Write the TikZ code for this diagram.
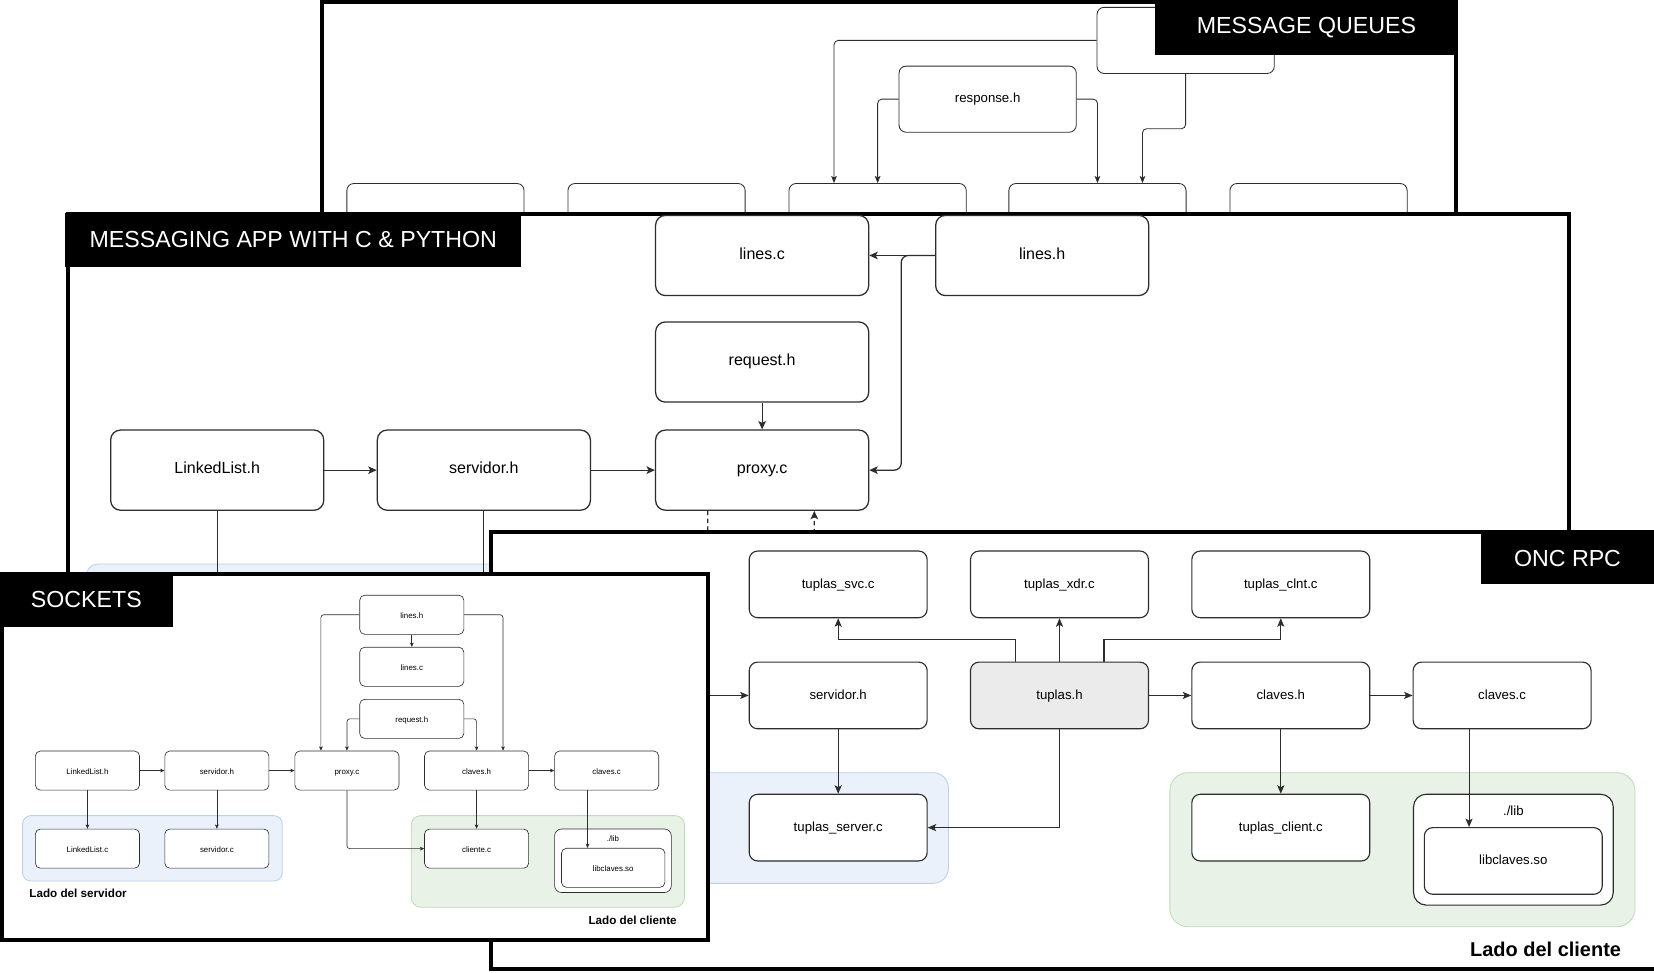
\documentclass[tikz,border=0pt]{standalone}
\usepackage{fontspec}
\setmainfont{Liberation Sans}
\usetikzlibrary{arrows.meta}

\definecolor{srvblue}{RGB}{234,241,251}
\definecolor{srvblueline}{RGB}{190,207,232}
\definecolor{cligreen}{RGB}{232,242,230}
\definecolor{cligreenline}{RGB}{191,219,183}
\definecolor{hdrgray}{RGB}{235,235,235}
\definecolor{edge}{RGB}{45,45,45}

\newcommand\mqtext{\fontsize{9.4pt}{11pt}\selectfont}
\newcommand\matext{\fontsize{11.4pt}{13pt}\selectfont}
\newcommand\onctext{\fontsize{9.4pt}{11pt}\selectfont}
\newcommand\sktext{\fontsize{5.6pt}{7pt}\selectfont}
\newcommand\titletext{\fontsize{16.5pt}{19pt}\selectfont}

\tikzset{
  panel/.style={draw=black, fill=white, line width=2.9pt},
  paneltitle/.style={fill=black, text=white, inner sep=0pt, font=\titletext},
  filetext/.style={text height=0.72em, text depth=0.2em},
  mqfile/.style={draw=edge, fill=white, rounded corners=5pt, line width=0.6pt,
    minimum width=126pt, minimum height=47pt, inner sep=0pt, font=\mqtext, filetext},
  mafile/.style={draw=edge, fill=white, rounded corners=7pt, line width=0.9pt,
    minimum width=151.5pt, minimum height=57pt, inner sep=0pt, font=\matext, filetext},
  oncfile/.style={draw=edge, fill=white, rounded corners=6pt, line width=0.8pt,
    minimum width=126.5pt, minimum height=47.4pt, inner sep=0pt, font=\onctext, filetext},
  skfile/.style={draw=edge, fill=white, rounded corners=3.5pt, line width=0.45pt,
    minimum width=74pt, minimum height=27.8pt, inner sep=0pt, font=\sktext, filetext},
  mqarrow/.style={draw=edge, line width=0.6pt, rounded corners=3pt,
    -{Stealth[length=5pt, width=4pt, inset=1pt]}},
  maline/.style={draw=edge, line width=0.9pt},
  maarrow/.style={maline, rounded corners=5pt,
    -{Stealth[length=6pt, width=5.4pt, inset=1.4pt]}},
  oncarrow/.style={draw=edge, line width=0.8pt,
    -{Stealth[length=6pt, width=5pt, inset=1.3pt]}},
  skarrow/.style={draw=edge, line width=0.45pt, rounded corners=2pt,
    -{Stealth[length=3pt, width=2.6pt, inset=0.7pt]}},
  srvgroup/.style={fill=srvblue, draw=srvblueline, line width=0.6pt},
  cligroup/.style={fill=cligreen, draw=cligreenline, line width=0.6pt}
}

\begin{document}
\begin{tikzpicture}[x=0.75pt, y=-0.75pt]
    \useasboundingbox (0,0) rectangle (1568,921.5);

    % message queues
    \draw[panel] (305.5,2) rectangle (1380,260);
    \node[mqfile] (mqtop) at (1124,38.3) {};
    \node[mqfile] (resp) at (936.3,94) {response.h};
    \foreach \name/\x in {mqa/412.8, mqb/622.4, mqc/832, mqd/1040.4, mqe/1250}
        \node[mqfile] (\name) at (\x,205.3) {};
    \draw[mqarrow] (mqtop.west) -| ([xshift=-31pt]mqc.north);
    \draw[mqarrow] (resp.west) -| (mqc.north);
    \draw[mqarrow] (resp.east) -| (mqd.north);
    \draw[mqarrow] (mqtop.south) -- ++(0,52) -| ([xshift=32pt]mqd.north);
    \node[paneltitle, minimum width=215.3pt, minimum height=39pt] (mqtitle) at (1238.5,26) {MESSAGE QUEUES};

    % messaging app
    \draw[panel] (64.4,202.6) rectangle (1487.3,700);
    \draw[srvgroup, rounded corners=8pt] (82,534.7) rectangle (1000,700);
    \node[mafile] (linesc) at (722.5,242.2) {lines.c};
    \node[mafile] (linesh) at (988,242.2) {lines.h};
    \node[mafile] (reqh) at (722.5,343.2) {request.h};
    \node[mafile] (proxy) at (722.5,445.7) {proxy.c};
    \node[mafile] (llh) at (205.9,445.7) {LinkedList.h};
    \node[mafile] (servh) at (458.7,445.7) {servidor.h};
    \coordinate (llend) at (205.9,560);
    \coordinate (svend) at (458.7,560);
    \coordinate (dashend) at (671,520);
    \coordinate (dashstart) at (772,520);

    \draw[maarrow] (linesh.west) -- (linesc.east);
    \draw[maarrow] (linesh.west) -- ++(-32,0) |- (proxy.east);
    \draw[maarrow] (reqh) -- (proxy);
    \draw[maarrow] (llh) -- (servh);
    \draw[maarrow] (servh) -- (proxy);
    \draw[maline] (llh) -- (llend);
    \draw[maline] (servh) -- (svend);
    \draw[maline, dash pattern=on 3pt off 2.5pt] ([xshift=-38.6pt]proxy.south) -- (dashend);
    \draw[maarrow, dash pattern=on 3pt off 2.5pt] (dashstart) -- ([xshift=37.1pt]proxy.south);
    \node[paneltitle, minimum width=324pt, minimum height=38.2pt] (matitle) at (278,227.5) {MESSAGING APP WITH C \& PYTHON};

    % onc rpc
    \draw[panel] (465.5,504.3) rectangle (1620,918.7);
    \draw[srvgroup, rounded corners=11pt] (560,732.5) rectangle (899.2,837.4);
    \draw[cligroup, rounded corners=13pt] (1109,732.5) rectangle (1550,878.5);
    \node[oncfile] (svc) at (794.6,554) {tuplas\_svc.c};
    \node[oncfile] (xdr) at (1004.4,554) {tuplas\_xdr.c};
    \node[oncfile] (clnt) at (1214.2,554) {tuplas\_clnt.c};
    \node[oncfile] (oservh) at (794.6,659.3) {servidor.h};
    \node[oncfile, fill=hdrgray] (tuplash) at (1004.4,659.3) {tuplas.h};
    \node[oncfile] (clavesh) at (1214.2,659.3) {claves.h};
    \node[oncfile] (clavesc) at (1424,659.3) {claves.c};
    \node[oncfile] (tserver) at (794.6,784.6) {tuplas\_server.c};
    \node[oncfile] (tclient) at (1214.2,784.6) {tuplas\_client.c};
    \node[oncfile, minimum width=142pt, minimum height=78.8pt, rounded corners=9pt] (libdir) at (1434.7,805.5) {};
    \node[font=\onctext, inner sep=0pt] (libtxt) at ([yshift=-11.8pt]libdir.north) {./lib};
    \node[oncfile] (libso) at (1434.6,816.2) {libclaves.so};
    \coordinate (oncin) at (600,659.3);

    \draw[oncarrow] ([xshift=-31.4pt]tuplash.north) -- ++(0,-21.2) -| (svc.south);
    \draw[oncarrow] (tuplash.north) -- (xdr.south);
    \draw[oncarrow] ([xshift=31.6pt]tuplash.north) -- ++(0,-21.2) -| (clnt.south);
    \draw[oncarrow] (tuplash) -- (clavesh);
    \draw[oncarrow] (clavesh) -- (clavesc);
    \draw[oncarrow] (clavesh) -- (tclient);
    \draw[oncarrow] ([xshift=-23.5pt]clavesc.south) -- ([xshift=-23.5pt]clavesc.south |- libso.north);
    \draw[oncarrow] (tuplash.south) |- (tserver.east);
    \draw[oncarrow] (oservh) -- (tserver);
    \draw[oncarrow] (oncin) -- (oservh.west);
    \node[anchor=base east, inner sep=0pt, font=\fontsize{14.2pt}{16pt}\bfseries] (oncside) at (1537,907) {Lado del cliente};
    \node[paneltitle, minimum width=123pt, minimum height=37.5pt] (onctitle) at (1486,529) {ONC RPC};

    % sockets
    \draw[panel] (2,544.3) rectangle (671,891);
    \draw[srvgroup, rounded corners=6pt] (21.4,773.2) rectangle (267.6,835.2);
    \draw[cligroup, rounded corners=7pt] (389.8,773.2) rectangle (649,860);
    \node[skfile] (sklinesh) at (390.4,582.8) {lines.h};
    \node[skfile] (sklinesc) at (390.4,632.1) {lines.c};
    \node[skfile] (skreq) at (390.4,681.5) {request.h};
    \node[skfile] (skllh) at (82.9,730.5) {LinkedList.h};
    \node[skfile] (skservh) at (205.6,730.5) {servidor.h};
    \node[skfile] (skproxy) at (328.9,730.5) {proxy.c};
    \node[skfile] (skclavesh) at (451.8,730.5) {claves.h};
    \node[skfile] (skclavesc) at (575.1,730.5) {claves.c};
    \node[skfile] (skllc) at (82.9,804.5) {LinkedList.c};
    \node[skfile] (skservc) at (205.6,804.5) {servidor.c};
    \node[skfile] (skcliente) at (451.8,804.5) {cliente.c};
    \node[skfile, minimum width=83pt, minimum height=45.2pt, rounded corners=5pt] (sklib) at (581.1,816) {};
    \node[font=\sktext, inner sep=0pt] (sklibtxt) at ([yshift=-7pt]sklib.north) {./lib};
    \node[skfile, minimum width=73.5pt] (sklibso) at (581.3,822.7) {libclaves.so};

    \draw[skarrow] (sklinesh.west) -| ([xshift=-18.5pt]skproxy.north);
    \draw[skarrow] (sklinesh.east) -| ([xshift=18.8pt]skclavesh.north);
    \draw[skarrow] (sklinesh) -- (sklinesc);
    \draw[skarrow] (skreq.west) -| (skproxy.north);
    \draw[skarrow] (skreq.east) -| (skclavesh.north);
    \draw[skarrow] (skllh) -- (skservh);
    \draw[skarrow] (skservh) -- (skproxy);
    \draw[skarrow] (skclavesh) -- (skclavesc);
    \draw[skarrow] (skllh) -- (skllc);
    \draw[skarrow] (skservh) -- (skservc);
    \draw[skarrow] (skclavesh) -- (skcliente);
    \draw[skarrow] (skproxy.south) |- (skcliente.west);
    \draw[skarrow] ([xshift=-13.6pt]skclavesc.south) -- ([xshift=-13.6pt]skclavesc.south |- sklibso.north);
    \node[anchor=base west, inner sep=0pt, font=\fontsize{8.3pt}{10pt}\bfseries] (sksrvside) at (27.6,851) {Lado del servidor};
    \node[anchor=base east, inner sep=0pt, font=\fontsize{8.3pt}{10pt}\bfseries] (skcliside) at (641.8,876) {Lado del cliente};
    \node[paneltitle, minimum width=122.7pt, minimum height=38.2pt] (sktitle) at (81.8,568.5) {SOCKETS};
\end{tikzpicture}
\end{document}
